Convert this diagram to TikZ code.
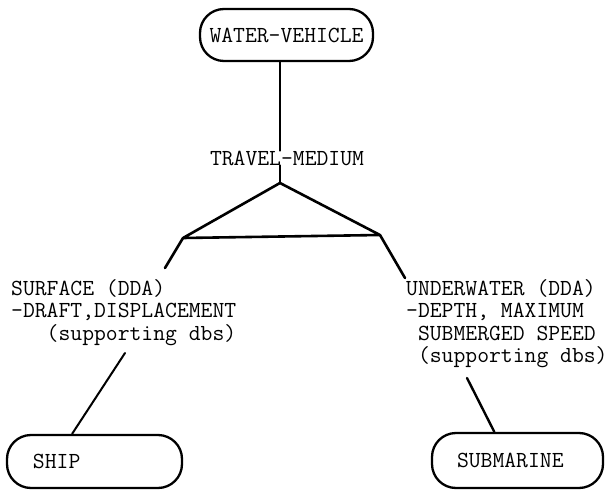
\documentclass[tikz,border=0pt]{standalone}
\usepackage{tikz}
\usetikzlibrary{positioning}

\newcommand{\typed}{\ttfamily\fontsize{23bp}{22.5bp}\selectfont}

\begin{document}
\begin{tikzpicture}[
    x=1bp, y=-1bp,
    box/.style={rectangle, rounded corners=24bp, draw, line width=2.3bp, font=\typed, inner ysep=0pt, align=left},
    tag/.style={font=\typed, align=left, inner sep=0pt},
    link/.style={line width=2.6bp, line cap=round, line join=round}
]
\useasboundingbox (0,0) rectangle (612,491);

\node[box, minimum width=173bp, minimum height=52bp, inner xsep=4bp] (vehicle) at (286.5,35) {WATER-VEHICLE};
\node[tag] (medium) at (287,158) {TRAVEL-MEDIUM};

\node[tag, anchor=north west] (surface) at (11,279) {SURFACE (DDA)\\-DRAFT,DISPLACEMENT\\\hphantom{SUR}(supporting dbs)};
\node[tag, anchor=north west] (underwater) at (406,279) {UNDERWATER (DDA)\\-DEPTH, MAXIMUM\\\hphantom{-}SUBMERGED SPEED\\\hphantom{-}(supporting dbs)};

\node[box, minimum height=53bp, inner xsep=26bp, text width=123bp] (ship) at (94.5,461.5) {SHIP};
\node[box, minimum height=55bp, inner xsep=25bp, text width=121bp] (submarine) at (517.5,460.5) {SUBMARINE};

% fork under the travel medium
\coordinate (apex) at (280,183);
\coordinate (fork-l) at (183,238);
\coordinate (fork-r) at (380,235);
\coordinate (leg-l) at (165,268);
\coordinate (leg-r) at (405,278);
\coordinate (ship-top) at (125,353);
\coordinate (sub-top) at (467,378);

\draw[link] (vehicle.south -| apex) -- (medium.north -| apex);
\draw[link] (medium.south -| apex) -- (apex);
\draw[link] (apex) -- (fork-l) -- (fork-r) -- cycle;
\draw[link] (fork-l) -- (leg-l);
\draw[link] (fork-r) -- (leg-r);

\draw[link, line width=2bp] (ship-top) -- (ship.129);
\draw[link, line width=2.4bp] (sub-top) -- (submarine.129);

\end{tikzpicture}
\end{document}
